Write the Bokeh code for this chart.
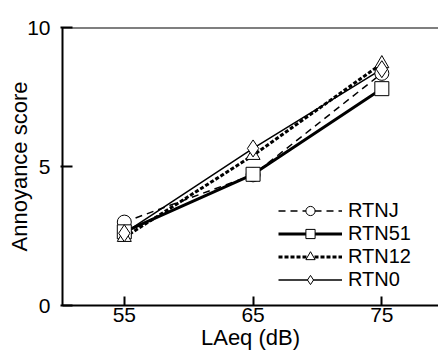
from bokeh.plotting import figure
from bokeh.models import Legend, LegendItem, Span, FixedTicker, Range1d
from bokeh.embed import file_html
from bokeh.resources import INLINE

levels = [55, 65, 75]
rtnj = [3.0, 4.7, 8.35]
rtn51 = [2.65, 4.72, 7.8]
rtn12 = [2.45, 5.4, 8.7]
rtn0 = [2.6, 5.65, 8.5]
x_ticks = [55, 65, 75]
y_ticks = [0, 5, 10]

FONT = "Liberation Sans"

p = figure(width=438, height=356, output_backend="svg", toolbar_location=None,
           x_range=Range1d(50.2, 79.4), y_range=Range1d(0, 10),
           min_border_left=62, min_border_top=27, min_border_bottom=51, min_border_right=0)
p.grid.visible = False
p.outline_line_color = None
p.background_fill_color = "white"

for ax in (p.xaxis[0], p.yaxis[0]):
    ax.axis_line_width = 2
    ax.axis_line_color = "black"
    ax.major_tick_line_width = 2
    ax.major_tick_line_color = "black"
    ax.minor_tick_line_color = None
    ax.major_label_text_font = FONT
    ax.major_label_text_font_size = "21px"
    ax.major_label_text_color = "black"
    ax.axis_label_text_font = FONT
    ax.axis_label_text_font_size = "22px"
    ax.axis_label_text_font_style = "normal"
    ax.axis_label_text_color = "black"

p.xaxis.ticker = FixedTicker(ticks=x_ticks)
p.yaxis.ticker = FixedTicker(ticks=y_ticks)
p.xaxis.major_tick_in = 9
p.xaxis.major_tick_out = 0
p.yaxis.major_tick_in = 10
p.yaxis.major_tick_out = 2
p.xaxis.major_label_standoff = 2
p.yaxis.major_label_standoff = 10
p.xaxis.axis_label = "LAeq (dB)"
p.yaxis.axis_label = "Annoyance score"
p.xaxis.axis_label_standoff = 0
p.yaxis.axis_label_standoff = -8

p.add_layout(Span(location=10, dimension="width", line_color="black", line_width=2))

l1 = p.line(levels, rtnj, line_color="black", line_width=1.5, line_dash="7 5")
l2 = p.line(levels, rtn51, line_color="black", line_width=3)
l3 = p.line(levels, rtn12, line_color="black", line_width=3, line_dash="4 2")
l4 = p.line(levels, rtn0, line_color="black", line_width=1.5)

m1 = p.scatter(levels, rtnj, marker="circle", size=14, fill_color="white", line_color="black", line_width=1)
m2 = p.scatter(levels, rtn51, marker="square", size=14, fill_color="white", line_color="black", line_width=1)
m3 = p.scatter(levels, rtn12, marker="triangle", size=14, fill_color="white", line_color="black", line_width=1)
m4 = p.scatter(levels, rtn0, marker="diamond", size=17, fill_color="white", line_color="black", line_width=1)

legend = Legend(items=[
    LegendItem(label="RTNJ", renderers=[l1, m1]),
    LegendItem(label="RTN51", renderers=[l2, m2]),
    LegendItem(label="RTN12", renderers=[l3, m3]),
    LegendItem(label="RTN0", renderers=[l4, m4]),
], location=(216, 14))
legend.glyph_width = 64
legend.glyph_height = 23
legend.label_height = 23
legend.spacing = 0
legend.padding = 0
legend.margin = 0
legend.label_standoff = 6
legend.border_line_color = None
legend.background_fill_alpha = 0
legend.label_text_font = FONT
legend.label_text_font_size = "20px"
legend.label_text_color = "black"
p.add_layout(legend)

open("out.html", "w").write(file_html(p, INLINE))
